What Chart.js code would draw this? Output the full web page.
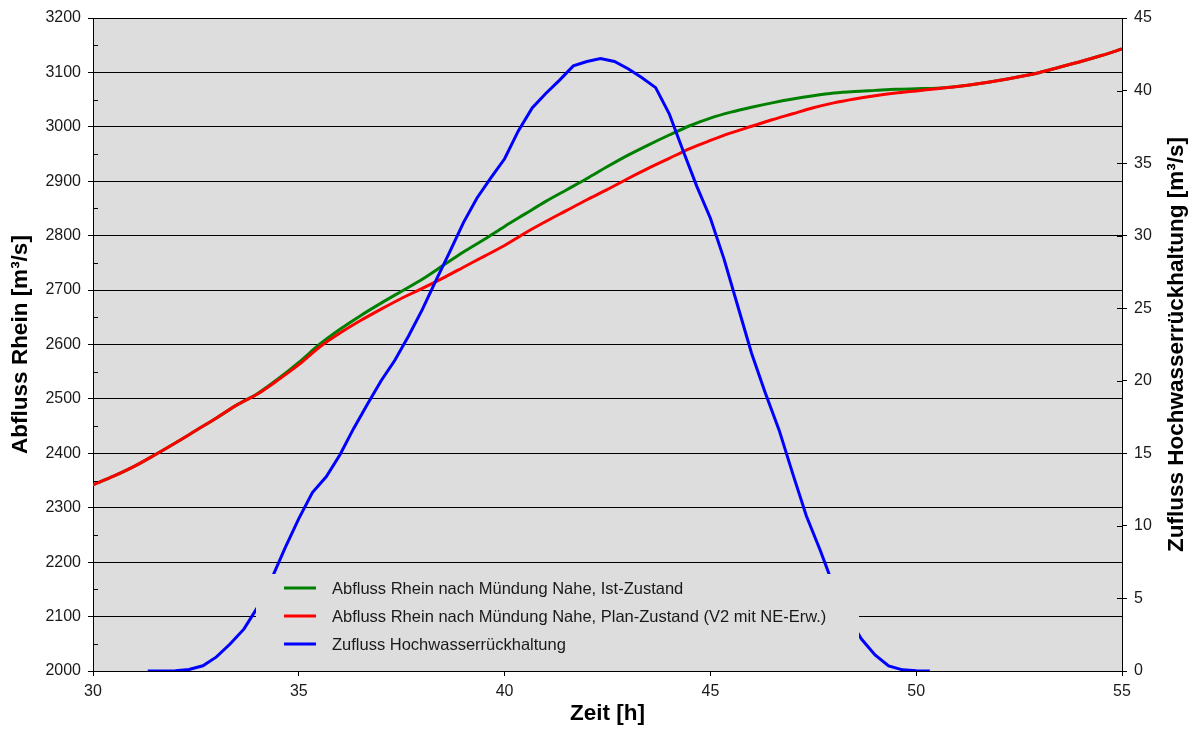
<!DOCTYPE html>
<html>
<head>
<meta charset="utf-8">
<script src="https://cdn.jsdelivr.net/npm/chart.js@4.4.1/dist/chart.umd.min.js"></script>
<style>
    html, body { margin: 0; padding: 0; background: #fff; }
    #wrap { width: 1197px; height: 729px; position: relative; }
</style>
</head>
<body>
<div id="wrap"><canvas id="myChart"></canvas></div>
<script>
// Zeitachse der Rhein-Abfluesse [h]
var rheinZeit = [30, 30.5, 31, 31.5, 32, 32.5, 33, 33.5, 34, 34.5, 35, 35.5, 36, 36.5, 37, 37.5,
    38, 38.5, 39, 39.5, 40, 40.5, 41, 41.5, 42, 42.5, 43, 43.5, 44, 44.5, 45, 45.5, 46, 46.5,
    47, 47.5, 48, 48.5, 49, 49.5, 50, 50.5, 51, 51.5, 52, 52.5, 53, 53.5, 54, 54.5, 55];

// Abfluss Rhein, Ist-Zustand [m3/s]
var abflussIst = [2342, 2358, 2376, 2397, 2419, 2442, 2465, 2489, 2510, 2537, 2567, 2600, 2628, 2653,
    2676, 2698, 2720, 2745, 2770, 2793, 2817, 2840, 2863, 2884, 2905, 2927, 2948, 2967, 2985, 3002,
    3016, 3027, 3036, 3044, 3051, 3057, 3062, 3065, 3067, 3069, 3070, 3071, 3074, 3079, 3085, 3092,
    3100, 3110, 3120, 3131, 3143];

// Abfluss Rhein, Plan-Zustand [m3/s]
var abflussPlan = [2342, 2358, 2376, 2397, 2419, 2442, 2465, 2489, 2509, 2535, 2563, 2595, 2621, 2644,
    2665, 2685, 2703, 2722, 2742, 2762, 2782, 2805, 2826, 2846, 2866, 2885, 2905, 2924, 2942, 2960,
    2975, 2989, 3001, 3013, 3024, 3035, 3044, 3051, 3057, 3062, 3066, 3070, 3074, 3079, 3085, 3092,
    3100, 3110, 3120, 3131, 3143];

// Zufluss Hochwasserrueckhaltung
var zuflussZeit = [31.33, 31.67, 32, 32.33, 32.67, 33, 33.33, 33.67, 34, 34.33, 34.67, 35, 35.33, 35.67,
    36, 36.33, 36.67, 37, 37.33, 37.67, 38, 38.33, 38.67, 39, 39.33, 39.67, 40, 40.33, 40.67, 41,
    41.33, 41.67, 42, 42.33, 42.67, 43, 43.33, 43.67, 44, 44.33, 44.67, 45, 45.33, 45.67, 46, 46.33,
    46.67, 47, 47.33, 47.67, 48, 48.33, 48.67, 49, 49.33, 49.67, 50, 50.33];
var zuflussWerte = [0, 0, 0.02, 0.1, 0.36, 0.97, 1.86, 2.9, 4.4, 6.3, 8.5, 10.5, 12.3, 13.4,
    14.9, 16.7, 18.4, 20.0, 21.4, 23.1, 24.9, 26.9, 28.9, 30.9, 32.6, 34.0, 35.3, 37.2, 38.8, 39.8,
    40.7, 41.7, 42.0, 42.2, 42.0, 41.5, 40.9, 40.2, 38.4, 35.9, 33.4, 31.2, 28.4, 25.1, 21.9, 19.2,
    16.6, 13.6, 10.7, 8.3, 5.8, 3.8, 2.2, 1.1, 0.35, 0.08, 0.02, 0];

var seriesNames = [
    'Abfluss Rhein nach Mündung Nahe, Ist-Zustand',
    'Abfluss Rhein nach Mündung Nahe, Plan-Zustand (V2 mit NE-Erw.)',
    'Zufluss Hochwasserrückhaltung'
];
var seriesColors = ['#008000', '#ff0000', '#0000ff'];

var xTitle = 'Zeit [h]';
var yLeftTitle = 'Abfluss Rhein [m³/s]';
var yRightTitle = 'Zufluss Hochwasserrückhaltung [m³/s]';

var fontFamily = '"Liberation Sans", Arial, sans-serif';
var plotBg = '#dddddd';

function toPoints(xs, ys) {
    return xs.map(function (x, i) { return { x: x, y: ys[i] }; });
}

// Zahlen ohne Tausendertrennzeichen
function plainTick(value) {
    return String(value);
}

// Hintergrund der Zeichenflaeche
const plotBackground = {
    id: 'plotBackground',
    beforeDraw(chart) {
        const { ctx, chartArea: a } = chart;
        ctx.save();
        ctx.fillStyle = plotBg;
        ctx.fillRect(a.left, a.top, a.right - a.left, a.bottom - a.top);
        ctx.restore();
    }
};

// Legende innerhalb der Grafik (ueberdeckt die Linien)
const innerLegend = {
    id: 'innerLegend',
    afterDatasetsDraw(chart) {
        const { ctx, chartArea: a } = chart;
        const left = a.left + 163, top = a.top + 556;
        ctx.save();
        ctx.fillStyle = plotBg;
        ctx.fillRect(left, top, 603, 88);
        ctx.font = '16.5px ' + fontFamily;
        ctx.textBaseline = 'middle';
        chart.data.datasets.forEach(function (ds, i) {
            const y = top + 14 + i * 28;
            ctx.strokeStyle = ds.borderColor;
            ctx.lineWidth = 3;
            ctx.beginPath();
            ctx.moveTo(left + 28, y);
            ctx.lineTo(left + 60, y);
            ctx.stroke();
            ctx.fillStyle = '#1a1a1a';
            ctx.fillText(ds.label, left + 76, y + 1);
        });
        ctx.restore();
    }
};

// Achsentitel und Hilfsstriche
const axisDecor = {
    id: 'axisDecor',
    afterDraw(chart) {
        const { ctx, chartArea: a } = chart;
        const yl = chart.scales.y, yr = chart.scales.y2;
        ctx.save();
        ctx.strokeStyle = '#000';
        ctx.lineWidth = 1;
        // kleine Zwischenstriche links (nach innen)
        const t = yl.ticks;
        for (let i = 0; i < t.length - 1; i++) {
            const py = Math.round(yl.getPixelForValue((t[i].value + t[i + 1].value) / 2)) + 0.5;
            ctx.beginPath();
            ctx.moveTo(a.left, py);
            ctx.lineTo(a.left + 5, py);
            ctx.stroke();
        }
        // Striche rechts auch nach innen
        yr.ticks.forEach(function (tk) {
            const py = Math.round(yr.getPixelForValue(tk.value)) + 0.5;
            ctx.beginPath();
            ctx.moveTo(a.right - 5, py);
            ctx.lineTo(a.right, py);
            ctx.stroke();
        });

        ctx.fillStyle = '#000';
        ctx.font = 'bold 22.5px ' + fontFamily;
        ctx.textAlign = 'center';
        ctx.textBaseline = 'middle';
        const midY = (a.top + a.bottom) / 2;

        ctx.fillText(xTitle, (a.left + a.right) / 2, 714);

        ctx.save();
        ctx.translate(21, midY);
        ctx.rotate(-Math.PI / 2);
        ctx.fillText(yLeftTitle, 0, 0);
        ctx.restore();

        ctx.save();
        ctx.translate(chart.width - 20, midY);
        ctx.rotate(-Math.PI / 2);
        ctx.fillText(yRightTitle, 0, 0);
        ctx.restore();

        ctx.restore();
    }
};

Chart.defaults.font.family = fontFamily;
Chart.defaults.font.size = 16;
Chart.defaults.color = '#1a1a1a';

const ctx = document.getElementById('myChart');

new Chart(ctx, {
    type: 'line',
    data: {
        datasets: [{
            label: seriesNames[0],
            data: toPoints(rheinZeit, abflussIst),
            borderColor: seriesColors[0],
            borderWidth: 3,
            pointRadius: 0,
            tension: 0.3,
            yAxisID: 'y',
            order: 3
        }, {
            label: seriesNames[1],
            data: toPoints(rheinZeit, abflussPlan),
            borderColor: seriesColors[1],
            borderWidth: 3,
            pointRadius: 0,
            tension: 0.3,
            yAxisID: 'y',
            order: 2
        }, {
            label: seriesNames[2],
            data: toPoints(zuflussZeit, zuflussWerte),
            borderColor: seriesColors[2],
            borderWidth: 3,
            pointRadius: 0,
            tension: 0,
            yAxisID: 'y2',
            order: 1
        }]
    },
    options: {
        responsive: true,
        maintainAspectRatio: false,
        animation: false,
        layout: { padding: { top: 18, left: 0, right: 0, bottom: 0 } },
        plugins: {
            legend: { display: false },
            tooltip: { enabled: false }
        },
        scales: {
            x: {
                type: 'linear',
                min: 30,
                max: 55,
                ticks: { stepSize: 5, padding: 6, callback: plainTick },
                grid: { drawOnChartArea: false, tickLength: 5, tickColor: '#000' },
                border: { color: '#000', width: 1 },
                afterFit: function (s) { s.height = 58; }
            },
            y: {
                position: 'left',
                min: 2000,
                max: 3200,
                ticks: { stepSize: 100, padding: 7, callback: plainTick },
                grid: { color: '#000', lineWidth: 1, tickLength: 5, tickColor: '#000' },
                border: { color: '#000', width: 1 },
                afterFit: function (s) { s.width = 93; }
            },
            y2: {
                position: 'right',
                min: 0,
                max: 45,
                ticks: { stepSize: 5, padding: 7, callback: plainTick },
                grid: { drawOnChartArea: false, tickLength: 5, tickColor: '#000' },
                border: { color: '#000', width: 1 },
                afterFit: function (s) { s.width = 75; }
            }
        }
    },
    plugins: [plotBackground, innerLegend, axisDecor]
});
</script>
</body>
</html>
